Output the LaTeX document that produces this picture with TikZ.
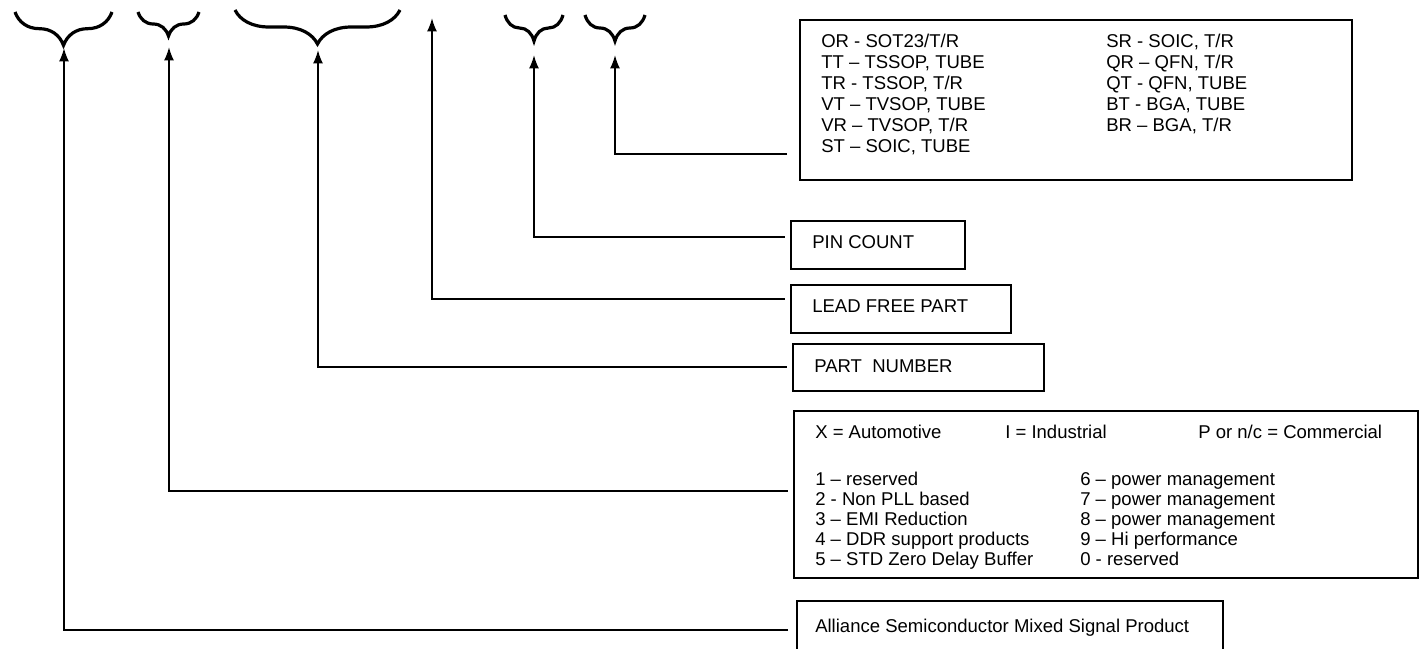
\documentclass[tikz,border=0pt]{standalone}
\usepackage{fontspec}
\setmainfont{Liberation Sans}
\usetikzlibrary{arrows.meta,decorations.pathreplacing}

\tikzset{
  field/.style={decorate, decoration={brace, mirror, amplitude=#1}, line width=2.4pt},
  feed/.style={arrows={-Latex[length=10pt,width=7.5pt]}, line width=1.4pt},
  codebox/.style={draw, rectangle, line width=1.4pt, inner sep=0pt, anchor=north west},
  codes/.style={inner sep=0pt, anchor=base west, font=\fontsize{13.9}{15.75}\selectfont},
}

\begin{document}
\begin{tikzpicture}[x=0.75pt, y=-0.75pt]
\path[use as bounding box] (0,0) rectangle (1422,649);
\clip (0,0) rectangle (1422,649);

% fields of the part number
\draw[field=25pt] (15,12) -- (112,12);
\draw[field=18pt] (138,12) -- (199,12);
\draw[field=25.5pt] (235,10) -- (400,10);
\draw[field=19.5pt] (505,15) -- (563,15);
\draw[field=19.5pt] (585,15) -- (645,15);

\coordinate (tipMix) at (64,48);
\coordinate (tipFam) at (169,47);
\coordinate (tipNum) at (318,50);
\coordinate (tipLead) at (432,18);
\coordinate (tipPin) at (534,55);
\coordinate (tipPkg) at (615,55);

% boxes
\node[codebox, minimum width=414pt, minimum height=120pt] (pkg) at (799,19) {};
\node[codebox, minimum width=130.5pt, minimum height=36pt] (pin) at (790,220) {};
\node[codebox, minimum width=165pt, minimum height=36pt] (lead) at (790,284) {};
\node[codebox, minimum width=188.25pt, minimum height=35.25pt] (part) at (792,343) {};
\node[codebox, minimum width=468pt, minimum height=125.25pt] (fam) at (793,410) {};
\node[codebox, minimum width=319.5pt, minimum height=45pt] (mix) at (796,600) {};

% texts
\node[codes] (pkgA) at (821,48) {\begin{tabular}[t]{@{}l@{}}
  OR - SOT23/T/R\\ TT – TSSOP, TUBE\\ TR - TSSOP, T/R\\
  VT – TVSOP, TUBE\\ VR – TVSOP, T/R\\ ST – SOIC, TUBE\end{tabular}};
\node[codes] (pkgB) at (1106,48) {\begin{tabular}[t]{@{}l@{}}
  SR - SOIC, T/R\\ QR – QFN, T/R\\ QT - QFN, TUBE\\
  BT - BGA, TUBE\\ BR – BGA, T/R\end{tabular}};
\node[codes] (pinT) at (812,248) {PIN COUNT};
\node[codes] (leadT) at (812,312) {LEAD FREE PART};
\node[codes] (partT) at (814,372) {PART\ \ NUMBER};
\node[codes] (gradeX) at (815,438) {X = Automotive};
\node[codes] (gradeI) at (1005,438) {I = Industrial};
\node[codes] (gradeP) at (1198,438) {P or n/c = Commercial};
\node[codes, font=\fontsize{13.9}{15}\selectfont] (famA) at (815,485) {\begin{tabular}[t]{@{}l@{}}
  1 – reserved\\ 2 - Non PLL based\\ 3 – EMI Reduction\\
  4 – DDR support products\\ 5 – STD Zero Delay Buffer\end{tabular}};
\node[codes, font=\fontsize{13.9}{15}\selectfont] (famB) at (1080,485) {\begin{tabular}[t]{@{}l@{}}
  6 – power management\\ 7 – power management\\ 8 – power management\\
  9 – Hi performance\\ 0 - reserved\end{tabular}};
\node[codes] (mixT) at (815,632) {Alliance Semiconductor Mixed Signal Product};

% leaders
\draw[feed] ([xshift=-9pt]pkg.west |- 0,154) -| (tipPkg);
\draw[feed] ([xshift=-4pt]pin.west |- 0,237) -| (tipPin);
\draw[feed] ([xshift=-4pt]lead.west |- 0,299) -| (tipLead);
\draw[feed] ([xshift=-4pt]part.west |- 0,367) -| (tipNum);
\draw[feed] ([xshift=-4pt]fam.west |- 0,491) -| (tipFam);
\draw[feed] ([xshift=-6pt]mix.west |- 0,630) -| (tipMix);
\end{tikzpicture}
\end{document}
